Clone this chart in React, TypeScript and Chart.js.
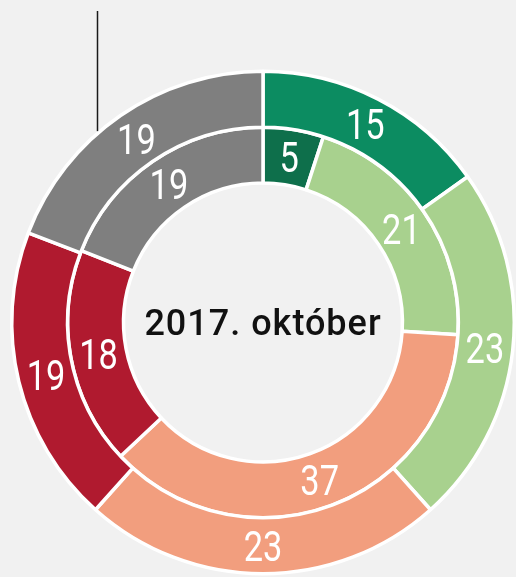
import React, { useEffect, useRef } from "react";
import { Chart, registerables } from "chart.js";

Chart.register(...registerables);

const categories = ["Kategória 1", "Kategória 2", "Kategória 3", "Kategória 4", "Kategória 5"];
const outerValues = [15, 23, 23, 19, 19];
const innerValues = [5, 21, 37, 18, 19];
const outerColors = ["#0c8c61", "#a8d18e", "#f29e7e", "#b01a2f", "#7f7f7f"];
const innerColors = ["#0e6f4b", "#a8d18e", "#f29e7e", "#b01a2f", "#7f7f7f"];
const centerTitle = "2017. október";

const labelPlugin = {
  id: "ringLabels",
  afterDatasetsDraw(chart: any) {
    const ctx = chart.ctx as CanvasRenderingContext2D;
    // value labels
    chart.data.datasets.forEach((ds: any, di: number) => {
      const meta = chart.getDatasetMeta(di);
      meta.data.forEach((arc: any, i: number) => {
        const p = arc.getCenterPoint();
        const size = 43;
        ctx.save();
        ctx.translate(p.x, p.y + size * 0.355);
        ctx.scale(0.8, 1);
        ctx.font = `400 ${size}px Roboto, "Liberation Sans", sans-serif`;
        ctx.fillStyle = "#ffffff";
        ctx.textAlign = "center";
        ctx.textBaseline = "alphabetic";
        ctx.fillText(String(ds.data[i]), 0, 0);
        ctx.restore();
      });
    });
    // center title
    const outerMeta = chart.getDatasetMeta(0);
    const first = outerMeta.data[0];
    const cx = first.x;
    const cy = first.y;
    ctx.save();
    ctx.font = `500 36px Roboto, "Liberation Sans", sans-serif`;
    (ctx as any).letterSpacing = "1px";
    ctx.fillStyle = "#111111";
    ctx.textAlign = "center";
    ctx.textBaseline = "alphabetic";
    ctx.fillText(centerTitle, cx, cy + 36 * 0.355);
    ctx.restore();
    // leader line
    const R = first.outerRadius + 1.75;
    const lx = 97.5;
    const dx = cx - lx;
    const endY = cy - Math.sqrt(Math.max(R * R - dx * dx, 0));
    ctx.save();
    ctx.strokeStyle = "#1a1a1a";
    ctx.lineWidth = 1.5;
    ctx.beginPath();
    ctx.moveTo(lx, 11);
    ctx.lineTo(lx, endY);
    ctx.stroke();
    ctx.restore();
  },
};

export default function App() {
  const ref = useRef<HTMLCanvasElement | null>(null);
  useEffect(() => {
    document.body.style.margin = "0";
    document.body.style.background = "#f1f1f1";
    document.body.style.overflow = "hidden";
    const canvas = ref.current!;
    const chart = new Chart(canvas, {
      type: "doughnut",
      data: {
        labels: categories,
        datasets: [
          {
            data: outerValues,
            backgroundColor: outerColors,
            borderColor: "#ffffff",
            borderWidth: 3.5,
          },
          {
            data: innerValues,
            backgroundColor: innerColors,
            borderColor: "#ffffff",
            borderWidth: 3.5,
          },
        ],
      },
      options: {
        responsive: false,
        animation: false,
        devicePixelRatio: 1,
        cutout: "55.5%",
        layout: { padding: { left: 10, right: 0, top: 69, bottom: 1 } },
        plugins: {
          legend: { display: false },
          tooltip: { enabled: false },
        },
      },
      plugins: [labelPlugin],
    });
    return () => chart.destroy();
  }, []);
  return (
    <div style={{ width: 516, height: 577, background: "#f1f1f1" }}>
      <canvas ref={ref} width={516} height={577} style={{ display: "block" }} />
    </div>
  );
}
